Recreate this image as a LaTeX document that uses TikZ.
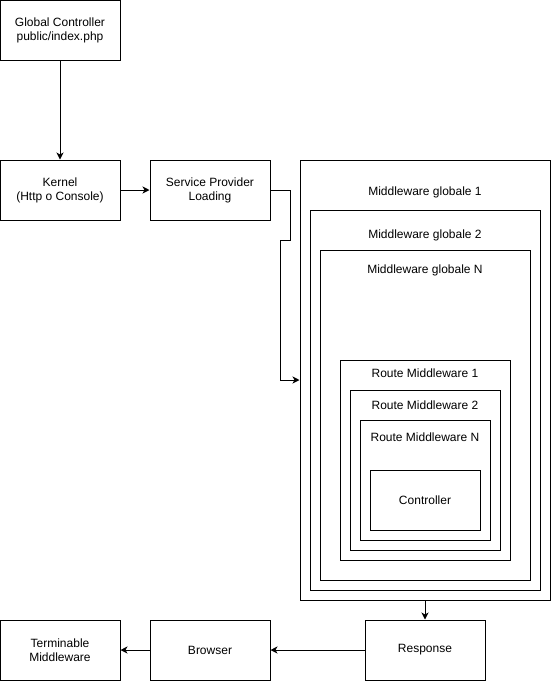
\documentclass[tikz,border=0pt]{standalone}
\usepackage{fontspec}
\setmainfont{Liberation Sans}
\usepackage{tikz}
\usetikzlibrary{arrows.meta,positioning}
\tikzset{
	stepbox/.style={draw=black,line width=1pt,minimum width=120pt,minimum height=60pt,inner sep=0pt,align=center},
	layer/.style={draw=black,line width=1pt,inner sep=0pt},
	layertext/.style={inner sep=0pt,anchor=center},
	flowarrow/.style={-{Stealth[length=7pt,width=7pt,inset=2pt]},line width=1pt}
}

\begin{document}
\begin{tikzpicture}[x=1pt,y=-1pt,font=\fontsize{12}{14}\selectfont]
	\useasboundingbox (0,0) rectangle (551,681);

	% left column
	\node[stepbox] (global) at (60,30) {Global Controller\\public/index.php};
	\node[stepbox] (kernel) at (60,190) {Kernel\\(Http o Console)};
	\node[stepbox] (spl) at (210,190) {Service Provider\\Loading};

	% middleware onion
	\node[layer,minimum width=250pt,minimum height=440pt] (mg1) at (425,380) {};
	\node[layer,minimum width=230pt,minimum height=380pt] (mg2) at (425,400) {};
	\node[layer,minimum width=210pt,minimum height=330pt] (mgn) at (425,415) {};
	\node[layer,minimum width=170pt,minimum height=200pt] (rm1) at (425,460) {};
	\node[layer,minimum width=150pt,minimum height=160pt] (rm2) at (425,470) {};
	\node[layer,minimum width=130pt,minimum height=120pt] (rmn) at (425,480) {};
	\node[stepbox,minimum width=110pt] (ctrl) at (425,500) {Controller};

	\node[layertext] (mg1t) at (425,192) {Middleware globale 1};
	\node[layertext] (mg2t) at (425,235) {Middleware globale 2};
	\node[layertext] (mgnt) at (425,270) {Middleware globale N};
	\node[layertext] (rm1t) at (425,373) {Route Middleware 1};
	\node[layertext] (rm2t) at (425,405) {Route Middleware 2};
	\node[layertext] (rmnt) at (425,437) {Route Middleware N};

	% bottom row
	\node[stepbox] (resp) at (425,650) {Response};
	\node[stepbox] (browser) at (210,650) {Browser};
	\node[stepbox] (term) at (60,650) {Terminable\\Middleware};

	\draw[flowarrow] (global) -- (kernel);
	\draw[flowarrow] (kernel) -- (spl);
	\draw[flowarrow] (spl.east) -- ++(20,0) -- ++(0,50) -- ++(-10,0) |- (mg1.west);
	\draw[flowarrow] (mg1.south) -- (resp.north);
	\draw[flowarrow] (resp) -- (browser);
	\draw[flowarrow] (browser) -- (term);
\end{tikzpicture}
\end{document}
